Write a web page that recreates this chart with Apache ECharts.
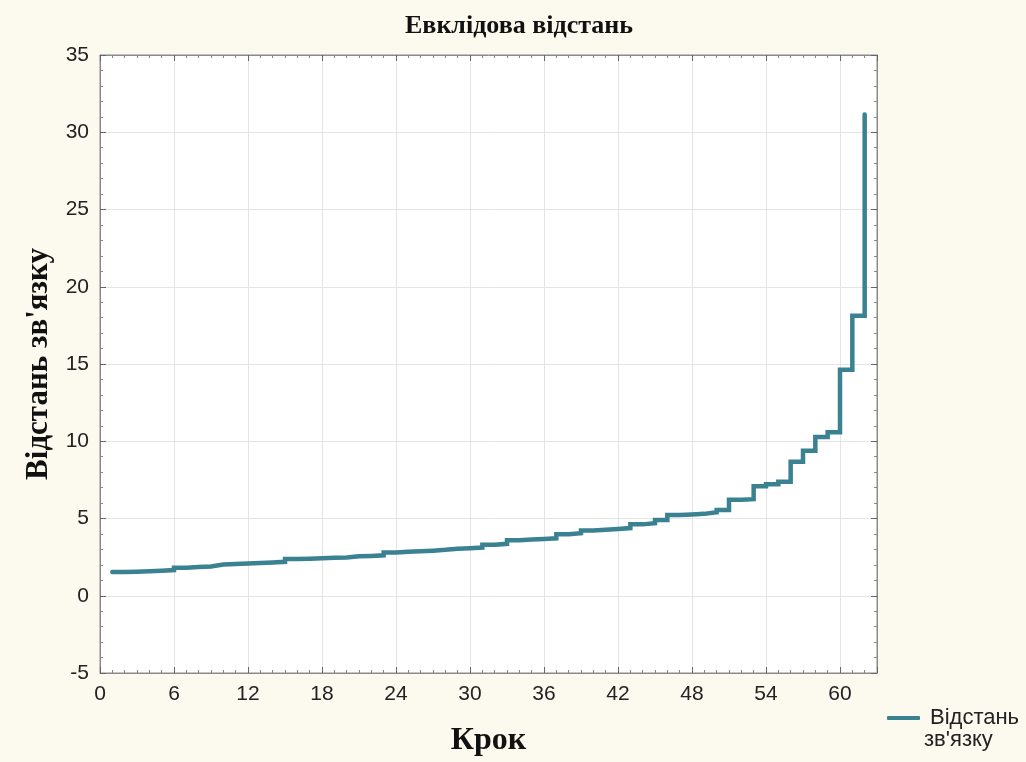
<!DOCTYPE html>
<html>
<head>
<meta charset="utf-8">
<script src="https://cdn.jsdelivr.net/npm/echarts@6/dist/echarts.min.js"></script>
<style>
  html, body { margin: 0; padding: 0; background: #fcf9ef; }
  #chart { width: 1026px; height: 762px; }
</style>
</head>
<body>
<div id="chart"></div>
<script>
// Агломеративна кластеризація: відстань зв'язку на кожному кроці
const steps = [
  1, 2, 3, 4, 5, 6, 7, 8, 9, 10,
  11, 12, 13, 14, 15, 16, 17, 18, 19, 20,
  21, 22, 23, 24, 25, 26, 27, 28, 29, 30,
  31, 32, 33, 34, 35, 36, 37, 38, 39, 40,
  41, 42, 43, 44, 45, 46, 47, 48, 49, 50,
  51, 52, 53, 54, 55, 56, 57, 58, 59, 60,
  61, 62
];
const linkageDistance = [
  1.53, 1.55, 1.58, 1.62, 1.66, 1.82, 1.86, 1.90, 2.02, 2.05,
  2.08, 2.12, 2.16, 2.20, 2.38, 2.40, 2.43, 2.46, 2.48, 2.55,
  2.58, 2.62, 2.80, 2.84, 2.88, 2.92, 2.97, 3.04, 3.08, 3.12,
  3.30, 3.36, 3.60, 3.64, 3.68, 3.72, 3.98, 4.05, 4.22, 4.27,
  4.32, 4.38, 4.62, 4.70, 4.90, 5.22, 5.26, 5.30, 5.40, 5.55,
  6.22, 6.25, 7.08, 7.22, 7.38, 8.68, 9.38, 10.28, 10.58, 14.62,
  18.12, 31.15
];
const chartTitle = 'Евклідова відстань';
const seriesName = 'Відстань зв\'язку';
const xName = 'Крок';
const yName = 'Відстань зв\'язку';

const points = steps.map((s, i) => [s, linkageDistance[i]]);

const labelFont = '"Liberation Sans", Arial, sans-serif';
const serifFont = '"Liberation Serif", "DejaVu Serif", serif';
const frameColor = '#8a8a8a';
const lineColor = '#3a8191';

// frame axes: line on every side of the plot, ticks pointing inward
function frameAxis(extra, minorSplit) {
  return Object.assign({
    axisLine: { show: true, onZero: false, lineStyle: { color: frameColor, width: 1 } },
    axisTick: { show: true, inside: true, length: 6, lineStyle: { color: '#666' } },
    minorTick: { show: true, splitNumber: minorSplit, length: 3, lineStyle: { color: '#888' } }
  }, extra);
}

const chart = echarts.init(document.getElementById('chart'), null, { renderer: 'canvas' });
chart.setOption({
  backgroundColor: '#fcf9ef',
  animation: false,
  title: {
    text: chartTitle,
    left: 400,
    top: 8,
    textStyle: { fontFamily: serifFont, fontSize: 26, fontWeight: 'bold', color: '#111' }
  },
  grid: {
    left: 100, right: 149, top: 55, bottom: 87,
    show: true, backgroundColor: '#ffffff', borderColor: frameColor, borderWidth: 1
  },
  legend: {
    left: 882, top: 702,
    itemWidth: 33, itemHeight: 4,
    icon: 'roundRect',
    formatter: name => name.split(' ')[0],
    textStyle: { fontFamily: labelFont, fontSize: 22, color: '#222', padding: [0, 0, 0, 5] }
  },
  graphic: [{
    type: 'text',
    left: 924, top: 729,
    style: {
      text: seriesName.split(' ')[1],
      font: '22px "Liberation Sans", Arial, sans-serif',
      fill: '#222'
    }
  }],
  xAxis: [
    frameAxis({
      type: 'value', min: 0, max: 63, interval: 6, position: 'bottom',
      name: xName, nameLocation: 'middle', nameGap: 52,
      nameTextStyle: { fontFamily: serifFont, fontSize: 32, fontWeight: 'bold', color: '#111' },
      axisLabel: { showMaxLabel: false, fontFamily: labelFont, fontSize: 21, color: '#222', margin: 11 },
      splitLine: { show: true, lineStyle: { color: '#e4e4e4' } }
    }, 6),
    frameAxis({
      type: 'value', min: 0, max: 63, interval: 6, position: 'top',
      axisLabel: { show: false }, splitLine: { show: false }
    }, 6)
  ],
  yAxis: [
    frameAxis({
      type: 'value', min: -5, max: 35, interval: 5, position: 'left',
      name: yName, nameLocation: 'middle', nameGap: 45,
      nameTextStyle: { fontFamily: serifFont, fontSize: 31, fontWeight: 'bold', color: '#111' },
      axisLabel: { fontFamily: labelFont, fontSize: 21, color: '#222', margin: 11 },
      splitLine: { show: true, lineStyle: { color: '#e4e4e4' } }
    }, 5),
    frameAxis({
      type: 'value', min: -5, max: 35, interval: 5, position: 'right',
      axisLabel: { show: false }, splitLine: { show: false }
    }, 5)
  ],
  series: [{
    name: seriesName,
    type: 'line',
    step: 'end',
    xAxisIndex: 0,
    yAxisIndex: 0,
    data: points,
    symbol: 'none',
    color: lineColor,
    lineStyle: { color: lineColor, width: 4.5, cap: 'round', join: 'miter' }
  }]
});
</script>
</body>
</html>
